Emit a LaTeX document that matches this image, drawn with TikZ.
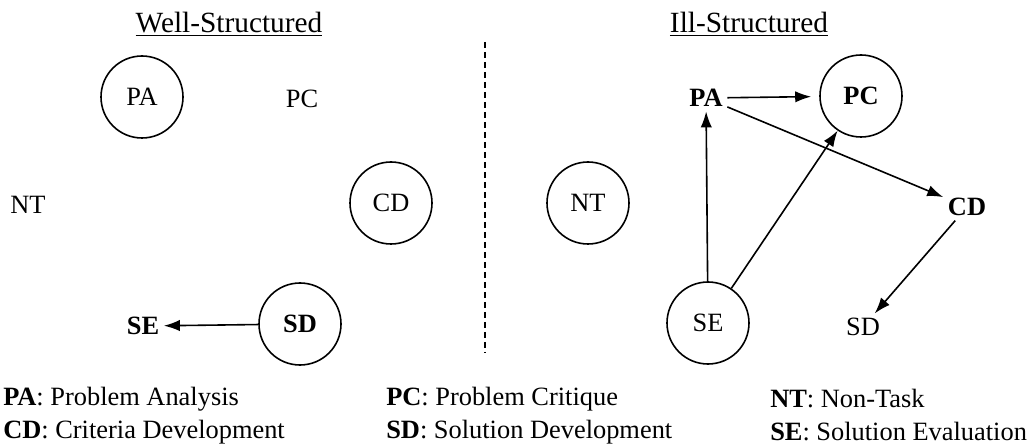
\documentclass[tikz,border=0pt]{standalone}
\usepackage{fontspec}
\setmainfont{Liberation Serif}
\usetikzlibrary{arrows.meta}

\begin{document}
\begin{tikzpicture}[x=0.75pt,y=-0.75pt,
    every node/.style={font=\fontsize{19.8}{23}\selectfont},
    act/.style={circle,draw,line width=1.2pt,minimum size=61.5pt,inner sep=0pt},
    ttl/.style={font=\fontsize{22}{26}\selectfont},
    key/.style={anchor=west,inner sep=0pt}]
  \useasboundingbox (0,0) rectangle (1032,445);
  % well-structured
  \node[ttl] (wt) at (229,24) {\underline{Well-Structured}};
  \node[act] (wpa) at (142,97) {PA};
  \node (wpc) at (302,99) {PC};
  \node (wnt) at (28,205) {NT};
  \node[act] (wcd) at (391,203) {CD};
  \node[act] (wsd) at (300,324) {\textbf{SD}};
  \node (wse) at (143,326) {\textbf{SE}};
  \path[-{Latex[length=12pt,width=8.5pt]},line width=1.2pt]
    (wsd) edge (wse);
  % divider
  \coordinate (dtop) at (485,42);
  \coordinate (dbot) at (485,353);
  \draw[dash pattern=on 4.5pt off 3pt,line width=1.2pt] (dtop) -- (dbot);
  % ill-structured
  \node[ttl] (it) at (749,24) {\underline{Ill-Structured}};
  \node (ipa) at (706,98) {\textbf{PA}};
  \node[act] (ipc) at (861,96) {\textbf{PC}};
  \node[act] (int) at (588,203) {NT};
  \node (icd) at (967,207) {\textbf{CD}};
  \node[act] (ise) at (708,323) {SE};
  \node (isd) at (863,327) {SD};
  \path[-{Latex[length=12pt,width=8.5pt]},line width=1.2pt]
    (ipa) edge[shorten >=6pt] (ipc)
          edge (icd)
    (ise) edge (ipa)
          edge (ipc)
    (icd) edge (isd);
  % key
  \node[key] (k1) at (3,399) {\textbf{PA}: Problem Analysis};
  \node[key] (k2) at (386,399) {\textbf{PC}: Problem Critique};
  \node[key] (k3) at (770,399) {\textbf{NT}: Non-Task};
  \node[key] (k4) at (3,432) {\textbf{CD}: Criteria Development};
  \node[key] (k5) at (386,432) {\textbf{SD}: Solution Development};
  \node[key] (k6) at (770,432) {\textbf{SE}: Solution Evaluation};
\end{tikzpicture}
\end{document}
